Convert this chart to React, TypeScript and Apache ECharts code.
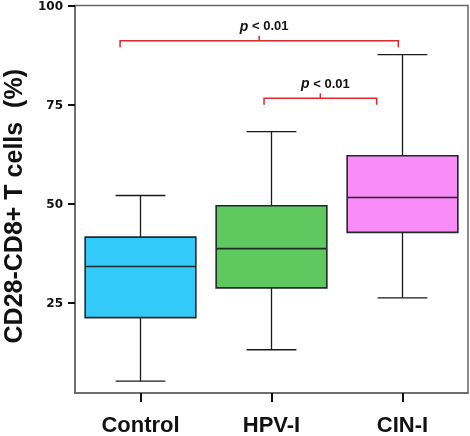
import React, { useEffect, useRef } from "react";
import * as echarts from "echarts";

const categories = ["Control", "HPV-I", "CIN-I"];
const minValues = [5.3, 13.2, 26.3];
const q1Values = [21.3, 28.8, 42.8];
const medianValues = [34.2, 38.7, 51.6];
const q3Values = [41.6, 49.5, 62.1];
const maxValues = [52.1, 68.2, 87.6];
const yTicks = [25, 50, 75, 100];
const boxColors = ["#33c9f9", "#5fc95f", "#f98cf7"];

const comparisonFrom = [0, 1];
const comparisonTo = [2, 2];
const comparisonLevels = [91.1, 76.6];
const comparisonLabels = ["p", "p"];
const comparisonThresholds = [" < 0.01", " < 0.01"];

// visual offsets (fraction of category band) for bracket ends
const bracketStartShift = [-0.156, -0.057];
const bracketEndShift = [-0.032, -0.197];

export default function App() {
  const ref = useRef<HTMLDivElement>(null);
  useEffect(() => {
    if (!ref.current) return;
    const chart = echarts.init(ref.current, null, { renderer: "svg" });
    const boxData = categories.map((_, i) => [
      i,
      minValues[i],
      q1Values[i],
      medianValues[i],
      q3Values[i],
      maxValues[i],
    ]);
    const bracketData = comparisonFrom.map((f, i) => [f, comparisonTo[i], comparisonLevels[i], i]);
    const lineStyle = { stroke: "#1a1a1a", lineWidth: 1.3 };

    chart.setOption({
      animation: false,
      grid: {
        left: 75,
        right: 2,
        top: 5.5,
        bottom: 43,
        containLabel: false,
        outerBoundsMode: "none",
        show: true,
        borderColor: "#666",
        borderWidth: 1.5,
        backgroundColor: "transparent",
      },
      xAxis: {
        type: "category",
        data: categories,
        boundaryGap: true,
        axisLine: { lineStyle: { color: "#666", width: 1.5 } },
        axisTick: { show: true, alignWithLabel: true, length: 9, lineStyle: { color: "#111", width: 2 } },
        axisLabel: {
          color: "#111",
          fontFamily: "Liberation Sans, Arial, sans-serif",
          fontWeight: "bold",
          fontSize: 22,
          margin: 20,
        },
      },
      yAxis: {
        type: "value",
        min: 2.3,
        max: 100,
        splitLine: { show: false },
        axisLine: { show: true, lineStyle: { color: "#666", width: 1.5 } },
        axisTick: { show: true, length: 7, customValues: yTicks, lineStyle: { color: "#111", width: 2 } },
        axisLabel: {
          customValues: yTicks,
          color: "#111",
          fontFamily: "DejaVu Sans, sans-serif",
          fontWeight: "bold",
          fontSize: 12,
          margin: 12,
        },
        name: "CD28-CD8+ T cells  (%)",
        nameLocation: "middle",
        nameGap: 50,
        nameTextStyle: {
          color: "#111",
          fontFamily: "Liberation Sans, Arial, sans-serif",
          fontWeight: "bold",
          fontSize: 25,
          padding: [0, 14, 0, 0],
        },
      },
      series: [
        {
          type: "custom",
          data: boxData,
          encode: { x: 0, y: [1, 2, 3, 4, 5] },
          renderItem: (params: any, api: any) => {
            const idx = api.value(0);
            const cx = api.coord([idx, 0])[0];
            const band = api.size([1, 0])[0];
            const bw = band * 0.845;
            const cw = band * 0.38;
            const yMin = api.coord([idx, api.value(1)])[1];
            const yQ1 = api.coord([idx, api.value(2)])[1];
            const yMed = api.coord([idx, api.value(3)])[1];
            const yQ3 = api.coord([idx, api.value(4)])[1];
            const yMax = api.coord([idx, api.value(5)])[1];
            return {
              type: "group",
              children: [
                { type: "line", shape: { x1: cx, y1: yMax, x2: cx, y2: yQ3 }, style: lineStyle },
                { type: "line", shape: { x1: cx, y1: yQ1, x2: cx, y2: yMin }, style: lineStyle },
                { type: "line", shape: { x1: cx - cw / 2, y1: yMax, x2: cx + cw / 2, y2: yMax }, style: lineStyle },
                { type: "line", shape: { x1: cx - cw / 2, y1: yMin, x2: cx + cw / 2, y2: yMin }, style: lineStyle },
                {
                  type: "rect",
                  shape: { x: cx - bw / 2, y: yQ3, width: bw, height: yQ1 - yQ3 },
                  style: { fill: boxColors[params.dataIndex], stroke: "#1f2a2a", lineWidth: 1.6 },
                },
                {
                  type: "line",
                  shape: { x1: cx - bw / 2, y1: yMed, x2: cx + bw / 2, y2: yMed },
                  style: { stroke: "#1f2a2a", lineWidth: 1.6 },
                },
              ],
            };
          },
        },
        {
          type: "custom",
          data: bracketData,
          encode: { x: [0, 1], y: 2 },
          renderItem: (params: any, api: any) => {
            const from = api.value(0);
            const to = api.value(1);
            const level = api.value(2);
            const k = api.value(3);
            const band = api.size([1, 0])[0];
            const x1 = api.coord([from, level])[0] + bracketStartShift[k] * band;
            const x2 = api.coord([to, level])[0] + bracketEndShift[k] * band;
            const y = api.coord([from, level])[1];
            const xm = (x1 + x2) / 2;
            const red = { stroke: "#e3262b", lineWidth: 1.5, fill: "none" };
            return {
              type: "group",
              children: [
                {
                  type: "polyline",
                  shape: { points: [[x1, y + 6.5], [x1, y], [x2, y], [x2, y + 6.5]] },
                  style: red,
                },
                { type: "line", shape: { x1: xm, y1: y, x2: xm, y2: y - 5 }, style: red },
                {
                  type: "text",
                  x: xm + 5,
                  y: y - 8,
                  style: {
                    text: "{i|" + comparisonLabels[k] + "}{b|" + comparisonThresholds[k] + "}",
                    align: "center",
                    verticalAlign: "bottom",
                    rich: {
                      i: {
                        fontStyle: "italic",
                        fontWeight: "bold",
                        fontSize: 14,
                        fontFamily: "Liberation Sans, Arial, sans-serif",
                        fill: "#111",
                      },
                      b: {
                        fontWeight: "bold",
                        fontSize: 13,
                        fontFamily: "Liberation Sans, Arial, sans-serif",
                        fill: "#111",
                      },
                    },
                  },
                },
              ],
            };
          },
        },
      ],
    });
    return () => chart.dispose();
  }, []);
  return (
    <div
      ref={ref}
      style={{ position: "fixed", left: 0, top: 0, width: 470, height: 436 }}
    />
  );
}
